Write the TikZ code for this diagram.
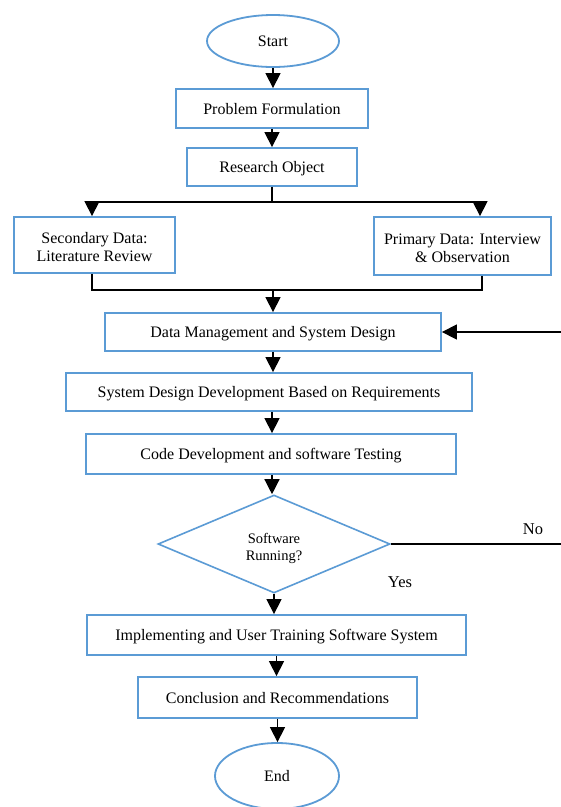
\documentclass[tikz,border=0pt]{standalone}
\usepackage{fontspec}
\setmainfont{Liberation Serif}
\usetikzlibrary{shapes.geometric,arrows.meta}
\definecolor{bluebd}{HTML}{5B9BD5}
\begin{document}
\begin{tikzpicture}[x=1pt,y=-1pt,
  font=\fontsize{16}{18}\selectfont,
  procbox/.style={draw=bluebd,line width=1.8pt,rectangle,inner sep=0pt,align=center,fill=white},
  oneline/.style={text height=14pt,text depth=3pt},
  twoline/.style={text height=32pt,text depth=0pt},
  termbox/.style={draw=bluebd,line width=1.8pt,ellipse,inner sep=0pt,align=center,fill=white,
    text height=14pt,text depth=3pt},
  decbox/.style={draw=bluebd,line width=1.6pt,diamond,inner sep=0pt,align=center,fill=white,
    font=\fontsize{14.5}{17}\selectfont,text height=33pt,text depth=0pt},
  conn/.style={draw=black,line width=1.3pt},
  arr/.style={conn,-{Triangle[length=15pt,width=15pt]}},
  lbl/.style={inner sep=0pt,font=\fontsize{16.5}{18}\selectfont}]
\useasboundingbox (0,0) rectangle (561,807);
\fill[white] (0,0) rectangle (561,807);

\node[termbox,minimum width=132pt,minimum height=52pt] (start) at (273,41) {Start};
\node[procbox,oneline,minimum width=192pt,minimum height=39pt] (pf) at (272,108.5) {Problem Formulation};
\node[procbox,oneline,minimum width=170pt,minimum height=38pt] (ro) at (272,167) {Research Object};
\node[procbox,twoline,minimum width=161pt,minimum height=56pt] (sec) at (94.5,245) {Secondary Data:\\Literature Review};
\node[procbox,twoline,minimum width=177pt,minimum height=58pt] (pri) at (462.5,246) {Primary Data: Interview\\\& Observation};
\node[procbox,oneline,minimum width=336pt,minimum height=38pt] (dm) at (273,332) {Data Management and System Design};
\node[procbox,oneline,minimum width=406pt,minimum height=38pt] (sd) at (269,392) {System Design Development Based on Requirements};
\node[procbox,oneline,minimum width=370pt,minimum height=40pt] (cd) at (271,454) {Code Development and software Testing};
\node[decbox,minimum width=232pt,minimum height=98pt] (dia) at (274,544) {Software\\Running?};
\node[procbox,oneline,minimum width=379pt,minimum height=40pt] (imp) at (276.5,635) {Implementing and User Training Software System};
\node[procbox,oneline,minimum width=279pt,minimum height=41pt] (con) at (277.5,697.5) {Conclusion and Recommendations};
\node[termbox,minimum width=124pt,minimum height=66pt] (end) at (277,776) {End};

\coordinate (jt) at (272,202);
\coordinate (mj) at (273,290);
\coordinate (fbR) at (561,332);
\coordinate (noR) at (561,544);

\draw[arr] (start.south) -- (start.south |- pf.north);
\draw[arr] (pf.south) -- (pf.south |- ro.north);
\draw[conn] (ro.south) -- (ro.south |- jt);
\draw[arr] (ro.south |- jt) -| ([xshift=-2.5pt]sec.north);
\draw[arr] (ro.south |- jt) -| ([xshift=17.5pt]pri.north);
\draw[conn] ([xshift=-2.5pt]sec.south) |- (mj);
\draw[conn] ([xshift=19.5pt]pri.south) |- (mj);
\draw[arr] (mj) -- (dm.north);
\draw[arr] (fbR) -- (dm.east);
\draw[arr] (dm.south) -- (dm.south |- sd.north);
\draw[arr] ([xshift=3pt]sd.south) -- ([xshift=3pt]sd.south |- cd.north);
\draw[arr] ([xshift=1pt]cd.south) -- ([xshift=1pt]cd.south |- dia.north);
\draw[conn] (dia.east) -- (noR);
\draw[arr] (dia.south) -- (dia.south |- imp.north);
\draw[arr] (imp.south) -- (imp.south |- con.north);
\draw[arr] (con.south) -- (con.south |- end.north);

\node[lbl] (nolbl) at (533,529) {No};
\node[lbl] (yeslbl) at (400,582) {Yes};
\end{tikzpicture}
\end{document}
